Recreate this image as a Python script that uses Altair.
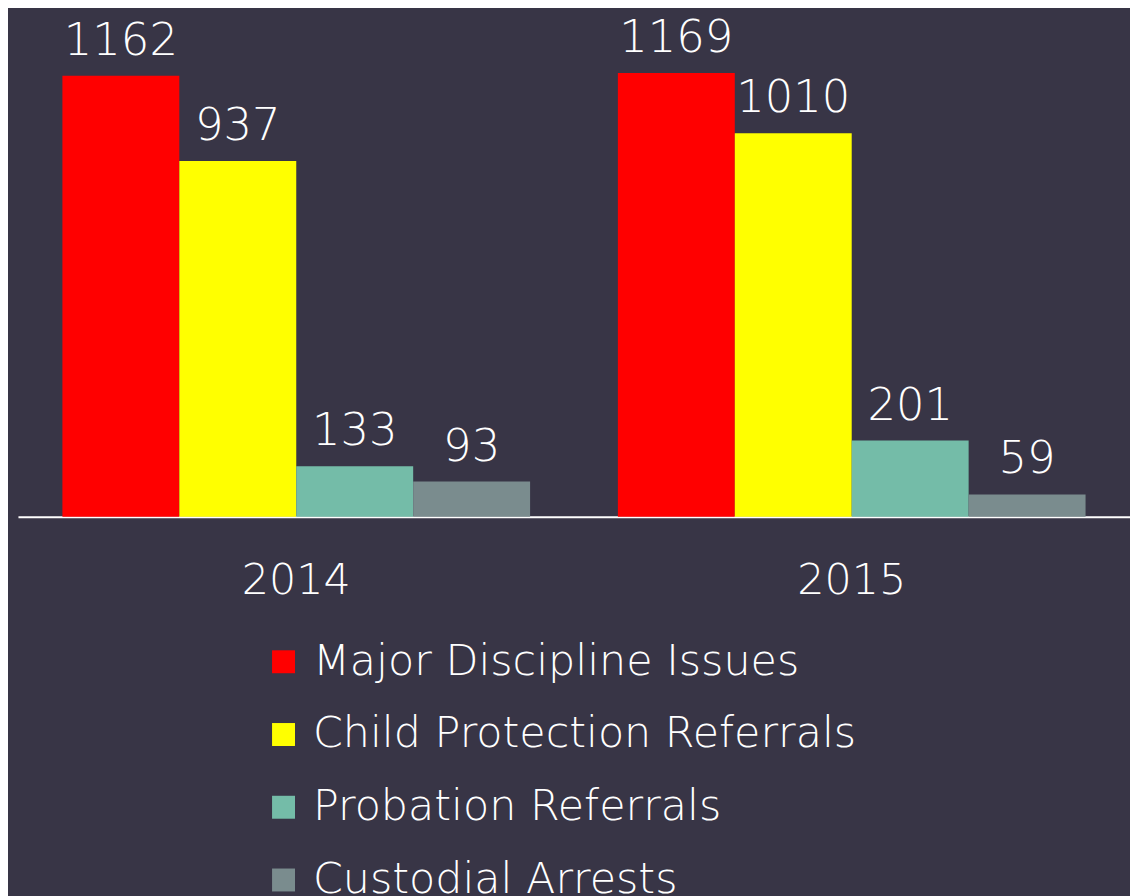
import altair as alt
import pandas as pd

years = ["2014", "2015"]
series = ["Major Discipline Issues", "Child Protection Referrals", "Probation Referrals", "Custodial Arrests"]
values_2014 = [1162, 937, 133, 93]
values_2015 = [1169, 1010, 201, 59]
colors = ["#FF0000", "#FFFF00", "#74BCA8", "#7A8C8E"]

rows = []
for y, vals in zip(years, [values_2014, values_2015]):
    for s, v in zip(series, vals):
        rows.append({"Year": y, "Series": s, "Value": v})
df = pd.DataFrame(rows)

FONT = "DejaVu Sans"
WEIGHT = 300

x = alt.X("Year:N", sort=years,
          scale=alt.Scale(paddingInner=0.158, paddingOuter=0.08),
          axis=alt.Axis(title=None, labelAngle=0, labelFontSize=43, labelColor="white",
                        labelFont=FONT, labelFontWeight=WEIGHT, ticks=False,
                        domainColor="white", domainWidth=2,
                        labelPadding=43, grid=False))
xo = alt.XOffset("Series:N", sort=series, scale=alt.Scale(paddingInner=0, paddingOuter=0))
y = alt.Y("Value:Q", scale=alt.Scale(domain=[0, 1336], nice=False), axis=None)

bars = alt.Chart(df).mark_bar().encode(
    x=x, xOffset=xo, y=y,
    color=alt.Color("Series:N", sort=series,
                    scale=alt.Scale(domain=series, range=colors),
                    legend=alt.Legend(title=None, orient="none", legendX=245, legendY=633,
                                      direction="vertical", symbolType="square",
                                      symbolSize=530, symbolStrokeWidth=0,
                                      labelFontSize=43, labelColor="white", labelFont=FONT,
                                      labelFontWeight=WEIGHT,
                                      labelOffset=8, rowPadding=29, labelLimit=900,
                                      padding=0)),
)

labels = alt.Chart(df).mark_text(baseline="alphabetic", dy=-21, fontSize=45,
                                 color="white", font=FONT, fontWeight=WEIGHT).encode(
    x=x, xOffset=xo, y=y, text=alt.Text("Value:Q")
)

chart = (bars + labels).properties(
    width=1116, height=509,
    background="#383546",
    padding={"left": 10, "top": 0, "right": 0, "bottom": 0},
).configure_view(stroke=None)

chart.save("out.html", embed_options={"renderer": "svg", "actions": False})
